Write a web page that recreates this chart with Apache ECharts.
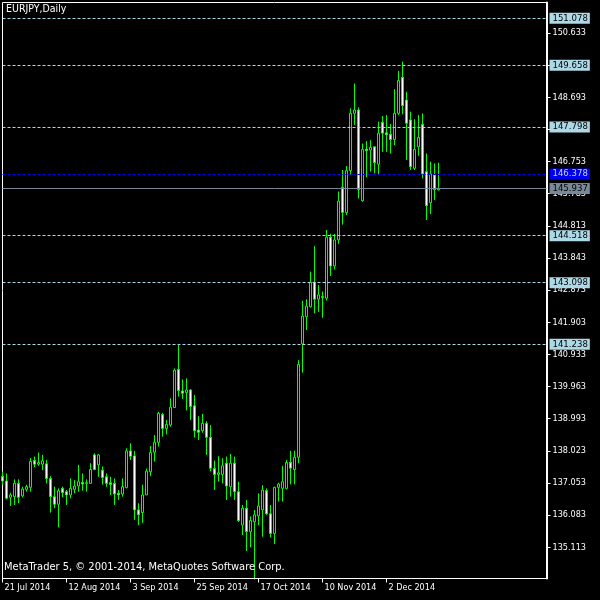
<!DOCTYPE html>
<html><head><meta charset="utf-8">
<script src="https://cdn.jsdelivr.net/npm/echarts@6/dist/echarts.min.js"></script>
<style>html,body{margin:0;padding:0;background:#000}#c{width:600px;height:600px}</style>
</head><body><div id="c"></div>
<script>
// OHLC of EURJPY daily bars starting 21 Jul 2014
const opens = [137.25,137.11,136.62,136.64,137.04,136.66,136.86,136.92,137.73,137.62,
137.62,137.63,137.19,136.64,136.41,136.89,136.79,136.69,136.86,136.96,
137.07,137.04,137.04,137.90,137.60,137.44,137.24,137.06,137.04,136.74,
136.72,136.91,138.02,137.87,136.24,136.16,136.69,137.39,137.98,138.28,
139.12,138.70,138.80,139.33,140.48,139.83,139.78,139.86,139.38,138.65,
138.63,138.85,138.43,137.49,137.31,137.31,137.65,136.94,137.65,136.79,
135.78,136.29,135.58,135.88,136.06,136.24,136.82,136.12,135.53,136.92,
136.89,136.89,137.68,137.46,137.83,141.25,142.07,142.37,143.11,142.60,
142.65,142.63,144.47,143.60,144.39,145.98,145.21,146.48,148.21,148.31,
145.57,147.13,147.10,147.20,146.67,147.94,147.62,147.58,147.42,148.21,
149.30,148.61,148.01,146.55,147.20,147.88,146.45,145.51,146.35,145.90];
const highs = [137.40,137.34,136.76,137.16,137.16,136.94,137.00,137.80,137.85,137.97,
137.90,137.75,137.26,136.94,136.89,136.94,136.84,137.19,137.14,137.60,
137.34,137.16,137.65,137.95,137.93,137.55,137.34,137.24,137.19,136.84,
137.19,138.10,138.25,138.02,136.44,137.00,137.49,138.17,138.50,139.20,
139.17,138.95,139.61,140.51,141.22,140.18,140.21,139.88,139.71,139.07,
139.14,138.92,138.80,137.73,137.86,137.80,137.85,137.93,137.85,137.09,
136.39,136.54,136.04,136.24,136.74,136.99,136.89,136.39,136.94,137.06,
137.57,137.75,138.02,138.03,140.76,142.55,142.60,143.43,144.20,143.03,
142.83,144.69,144.57,144.57,145.85,146.50,146.62,148.36,149.11,148.39,
147.30,147.37,147.40,147.20,147.96,148.13,148.16,147.89,148.94,149.49,
149.77,148.86,148.26,148.03,148.16,148.21,147.00,146.75,146.70,146.72];
const lows = [137.00,136.56,136.36,136.39,136.44,136.62,136.79,136.79,137.53,137.57,
137.44,137.04,136.16,136.29,135.71,136.62,136.39,136.59,136.74,136.79,
136.82,136.79,137.04,137.44,137.24,137.00,136.94,136.69,136.39,136.54,
136.64,136.89,137.75,135.94,135.78,135.85,136.69,137.26,137.70,138.15,
138.45,138.52,138.75,139.31,139.66,139.59,139.24,138.95,138.43,138.35,
138.57,137.90,137.40,136.84,137.09,137.04,136.54,136.64,136.54,135.88,
135.48,135.00,135.11,133.13,135.78,135.43,136.09,135.41,135.21,136.49,
136.49,136.86,137.01,137.01,137.65,140.38,141.67,142.35,142.17,142.22,
142.04,142.56,143.30,143.50,144.27,144.85,145.14,146.35,147.86,145.64,
145.54,146.28,146.45,146.40,146.35,147.05,147.05,147.00,147.25,148.16,
148.18,146.80,146.50,146.50,146.93,146.25,144.99,145.17,145.59,145.88];
const closes = [137.11,136.59,136.69,137.04,136.62,136.87,136.94,137.70,137.62,137.67,
137.72,137.19,136.64,136.41,136.82,136.76,136.69,136.89,136.96,137.09,
137.02,137.06,137.46,137.46,137.90,137.22,137.04,137.01,136.72,136.69,
136.94,138.02,137.86,136.24,136.09,136.69,137.41,137.97,138.28,139.15,
138.70,138.82,139.34,140.46,139.84,139.76,139.86,139.36,138.63,138.58,
138.85,138.43,137.50,137.31,137.36,137.57,136.96,137.65,136.79,135.92,
136.29,135.58,135.92,136.09,136.36,136.84,136.12,135.53,136.92,137.02,
137.09,137.67,137.50,137.83,140.63,142.09,142.39,143.11,142.60,142.73,
142.68,144.47,143.60,144.39,145.56,145.22,146.48,148.21,148.31,145.91,
147.12,147.08,147.18,146.72,147.61,147.61,147.56,147.42,148.21,149.20,
148.44,147.91,146.60,147.12,147.48,146.38,145.42,146.38,145.91,145.937];

const priceTicks = [135.113,136.083,137.053,138.023,138.993,139.963,140.933,141.903,142.873,
143.843,144.813,145.783,146.753,147.723,148.693,149.663,150.633];
const levelLines = [151.078,149.658,147.798,144.518,143.098,141.238];
const blueLevel = 146.378;
const bidLevel = 145.937;
const dateTickLabels = ['21 Jul 2014','12 Aug 2014','3 Sep 2014','25 Sep 2014','17 Oct 2014','10 Nov 2014','2 Dec 2014'];
const dateTickStep = 16;
const totalSlots = 137;

const categories = [];
for (let i = 0; i < totalSlots; i++) {
  categories.push(i % dateTickStep === 0 && (i / dateTickStep) < dateTickLabels.length ? dateTickLabels[i / dateTickStep] : String(i));
}
const ohlc = opens.map((o, i) => [o, closes[i], lows[i], highs[i]]);

const FONT = '"DejaVu Sans Condensed","Liberation Sans",sans-serif';
const isTick = (i) => i % dateTickStep === 0 && (i / dateTickStep) < dateTickLabels.length;

const lineData = levelLines.map(v => ({
  yAxis: v,
  lineStyle: {color: '#add8e6', type: [3, 2], width: 1},
  label: {backgroundColor: '#add8e6', color: '#000'}
}));
lineData.push({yAxis: blueLevel, lineStyle: {color: '#0000ff', type: [3, 2], width: 1},
  label: {backgroundColor: '#0000f0', color: '#c8d0f0'}});
lineData.push({yAxis: bidLevel, lineStyle: {color: '#778899', type: 'solid', width: 1},
  label: {backgroundColor: '#778899', color: '#000'}});

const GRID_BOTTOM = 21.5;
const chart = echarts.init(document.getElementById('c'), null, {renderer: 'canvas'});
chart.setOption({
  backgroundColor: '#000',
  animation: false,
  grid: {left: 2.5, top: 2.5, right: 53.5, bottom: GRID_BOTTOM, show: true, borderColor: '#fff', borderWidth: 1, backgroundColor: '#000'},
  xAxis: {
    type: 'category', data: categories, boundaryGap: false, z: 6,
    axisLine: {lineStyle: {color: '#fff', width: 1}},
    axisTick: {show: true, interval: (i) => isTick(i), length: 4, lineStyle: {color: '#fff'}},
    axisLabel: {interval: (i) => isTick(i), color: '#fff', fontFamily: FONT, fontSize: 9, align: 'left', margin: 5, padding: [0, 0, 0, 2]},
    splitLine: {show: false}
  },
  yAxis: {
    type: 'value', position: 'right', min: 134.169, max: 151.555, scale: true, z: 0,
    axisLine: {show: true, lineStyle: {color: '#fff', width: 2}},
    axisTick: {show: true, length: 4, customValues: priceTicks, lineStyle: {color: '#fff'}},
    axisLabel: {customValues: priceTicks, color: '#fff', fontFamily: FONT, fontSize: 9, margin: 6,
      formatter: (v) => v.toFixed(3)},
    splitLine: {show: false}
  },
  series: [
    {
      type: 'line', data: [], z: 2, silent: true,
      markLine: {
        symbol: 'none', silent: true, animation: false, precision: 3,
        label: {show: true, position: 'end', distance: 3, fontFamily: FONT, fontSize: 9.5, padding: [1, 2, 0, 3],
          formatter: (p) => Number(p.value).toFixed(3)},
        data: lineData
      }
    },
    {
      type: 'candlestick', data: ohlc, barWidth: 2, z: 3, clip: true,
      itemStyle: {color: '#000', color0: '#fff', borderColor: '#00ff00', borderColor0: '#00ff00', borderColorDoji: '#00ff00', borderWidth: 1}
    }
  ],
  graphic: [
    // mask below the plot frame so wicks beyond the price range are cut at the frame
    {type: 'rect', left: 0, bottom: 0, z: 5, silent: true, shape: {width: 546, height: GRID_BOTTOM - 1}, style: {fill: '#000'}},
    {type: 'text', left: 6, top: 4, z: 10, style: {text: 'EURJPY,Daily', fill: '#fff', font: '10.5px ' + FONT}},
    {type: 'text', left: 4, top: 562, z: 10, style: {text: 'MetaTrader 5, © 2001-2014, MetaQuotes Software Corp.', fill: '#fff', font: '11px ' + FONT}}
  ]
});
</script>
</body></html>
